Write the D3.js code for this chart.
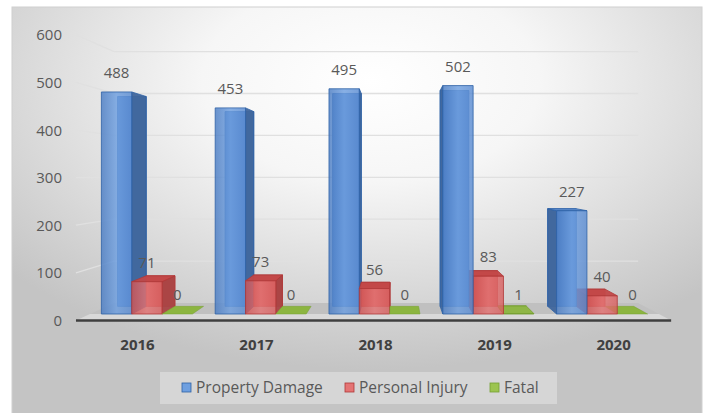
<!DOCTYPE html>
<html><head><meta charset="utf-8">
<script src="https://cdn.jsdelivr.net/npm/d3@7"></script>
<style>body{margin:0;background:#fff}svg{display:block}text{font-family:"Open Sans",sans-serif}</style>
</head><body><svg id="c" width="707" height="413"></svg>
<script>
const years=["2016","2017","2018","2019","2020"];
const seriesNames=["Property Damage","Personal Injury","Fatal"];
const propertyDamage=[488,453,495,502,227];
const personalInjury=[71,73,56,83,40];
const fatal=[0,0,0,1,0];
const yTicks=[0,100,200,300,400,500,600];

const values=[propertyDamage,personalInjury,fatal];
const colors={
  "Property Damage":{front:["#4a7cc3","#6e9fe0","#5a8bd1"],stroke:"#2f62a6",side:"#40669c",top:"#5f8fd0",back:"#5584c8"},
  "Personal Injury":{front:["#d05454","#e47474","#d86060"],stroke:"#b03838",side:"#a94444",top:"#c24848",back:"#cc5656"},
  "Fatal":{front:["#86ad3e","#9cc450","#8ab443"],stroke:"#76a032",side:"#6f9530",top:"#8cb540",back:"#86ad3e"}
};

const svg=d3.select("#c");
const W=707,H=413;
const vx=395,vy=175,sBack=0.945,sFloor=0.921,sAxis=1.046;
const P=(X,Y,s)=>[vx+(X-vx)*s, vy+(Y-vy)*s];

const x0=d3.scaleBand().domain(years).range([90,659]).paddingInner(0.2).paddingOuter(0.1);
const x1=d3.scaleBand().domain(seriesNames).range([0,x0.bandwidth()]);
const y=d3.scaleLinear().domain([0,600]).range([314,41]);

const defs=svg.append("defs");
const bg=defs.append("radialGradient").attr("id","bg").attr("cx",0.52).attr("cy",0.18).attr("r",0.7);
bg.append("stop").attr("offset",0).attr("stop-color","#ffffff");
bg.append("stop").attr("offset",0.35).attr("stop-color","#f6f6f6");
bg.append("stop").attr("offset",1).attr("stop-color","#c4c4c4");
seriesNames.forEach((n,i)=>{
  const g=defs.append("linearGradient").attr("id","g"+i).attr("x1",0).attr("x2",1).attr("y1",0).attr("y2",0);
  colors[n].front.forEach((c,j)=>g.append("stop").attr("offset",j/2).attr("stop-color",c));
});

svg.append("rect").attr("width",W).attr("height",H).attr("fill","#fff");
svg.append("rect").attr("x",12).attr("y",7).attr("width",690).attr("height",412)
  .attr("fill","url(#bg)").attr("stroke","#d0d0d0").attr("stroke-width",1);

const line=d3.line();
// gridlines on back wall and side wall
const grid=svg.append("g").attr("stroke","#e0e0e0").attr("stroke-width",1.3).attr("fill","none");
yTicks.filter(v=>v>0).forEach(v=>{
  grid.append("path").attr("d",line([P(90,y(v),sFloor),P(659,y(v),sFloor)]));
  grid.append("path").attr("d",line([P(90,y(v),sAxis),P(90,y(v),sFloor)]));
});

// floor
const y0=y(0);
svg.append("path").attr("fill","#c0c0c0")
  .attr("d",line([P(90,y0,1),P(659,y0,1),P(659,y0,sFloor),P(90,y0,sFloor)])+"Z");
svg.append("path").attr("fill","#d9d9d9")
  .attr("d",line([P(90,y0,sAxis),P(659,y0,sAxis),P(659,y0,1),P(90,y0,1)])+"Z");
svg.append("path").attr("stroke","#3f3f3f").attr("stroke-width",2.5)
  .attr("d",line([P(90,y0,sAxis),P(659,y0,sAxis)]));

// y axis labels
const yl=svg.append("g").attr("font-size",15).attr("fill","#595959").attr("text-anchor","end");
yTicks.forEach(v=>{
  yl.append("text").attr("x",62).attr("y",P(90,y(v),sAxis)[1]+5.5).text(v);
});

// x labels
const xl=svg.append("g").attr("font-size",15).attr("font-weight","bold").attr("fill","#404040").attr("text-anchor","middle");
years.forEach(yr=>{
  const c=x0(yr)+x0.bandwidth()/2;
  xl.append("text").attr("x",P(c,y0,sAxis)[0]+2).attr("y",349.5).text(yr);
});

// bars data
const bars=[];
years.forEach((yr,i)=>{
  seriesNames.forEach((n,k)=>{
    const X0=x0(yr)+x1(n), X1=X0+x1.bandwidth();
    bars.push({yr,n,k,v:values[k][i],X0,X1});
  });
});

// draw bars farthest from vanishing x first
const bg2=svg.append("g");
bars.slice().sort((a,b)=>Math.abs((b.X0+b.X1)/2-vx)-Math.abs((a.X0+a.X1)/2-vx)).forEach(b=>{
  const c=colors[b.n];
  const yt=y(b.v), yb=y(0);
  const g=bg2.append("g");
  const poly=(pts,fill,op)=>g.append("path").attr("d",line(pts)+"Z").attr("fill",fill)
      .attr("fill-opacity",op).attr("stroke",c.stroke).attr("stroke-width",0.8).attr("stroke-linejoin","round");
  if(b.v>0.5){
    poly([P(b.X0,yt,sBack),P(b.X1,yt,sBack),P(b.X1,yb,sBack),P(b.X0,yb,sBack)],c.back,1);
    if(b.X1<vx) poly([P(b.X1,yt,1),P(b.X1,yb,1),P(b.X1,yb,sBack),P(b.X1,yt,sBack)],c.side,0.95);
    else if(b.X0>vx) poly([P(b.X0,yt,1),P(b.X0,yb,1),P(b.X0,yb,sBack),P(b.X0,yt,sBack)],c.side,0.95);
    if(yt>vy) poly([P(b.X0,yt,1),P(b.X1,yt,1),P(b.X1,yt,sBack),P(b.X0,yt,sBack)],c.top,0.95);
    poly([[b.X0,yt],[b.X1,yt],[b.X1,yb],[b.X0,yb]],"url(#g"+b.k+")",0.82);
  } else {
    const yy=y(b.v);
    g.append("path").attr("d",line([P(b.X0,yy,1),P(b.X1,yy,1),P(b.X1,yy,sBack),P(b.X0,yy,sBack)])+"Z")
      .attr("fill",c.top).attr("stroke",c.stroke).attr("stroke-width",0.5);
  }
});

// data labels (on top)
const dl=svg.append("g").attr("font-size",15).attr("fill","#595959").attr("text-anchor","middle");
bars.forEach(b=>{
  dl.append("text").attr("x",(b.X0+b.X1)/2).attr("y",y(b.v)-14).text(b.v);
});

// legend
const lg=svg.append("g");
lg.append("rect").attr("x",160).attr("y",372).attr("width",397).attr("height",32)
  .attr("fill","#ffffff").attr("fill-opacity",0.3);
const lx=[182,345,490];
seriesNames.forEach((n,i)=>{
  lg.append("rect").attr("x",lx[i]).attr("y",383).attr("width",9).attr("height",9)
    .attr("fill",colors[n].front[1]).attr("stroke",colors[n].stroke).attr("stroke-width",0.8);
  lg.append("text").attr("x",lx[i]+14).attr("y",393).attr("font-size",15.5).attr("fill","#595959").text(n);
});
</script></body></html>
